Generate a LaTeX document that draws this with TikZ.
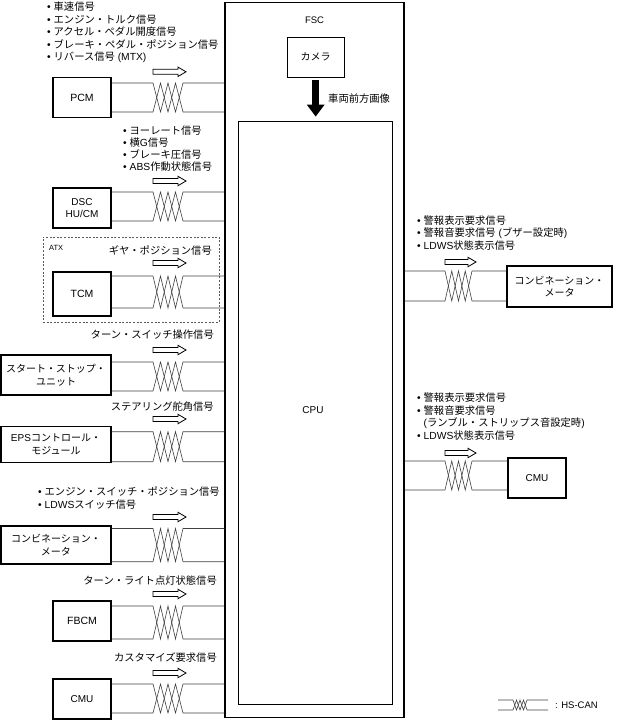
\documentclass[tikz,border=0pt]{standalone}
\usepackage{fontspec}
\setmainfont{Liberation Sans}
\newfontfamily\jp{Noto Sans CJK JP}
\newcommand\J[1]{{\jp #1}}
\usetikzlibrary{arrows.meta}
% left twisted pair: #1 box, #2 top y, #3 bottom y
\newcommand\twl[3]{%
 \draw[wire] (#1.east |- 0,#2) -- (153,#2) -- (160.5,#3) -- (168,#2) -- (175.5,#3) -- (183,#2) -- (fsc.west |- 0,#2);
 \draw[wire] (#1.east |- 0,#3) -- (153,#3) -- (160.5,#2) -- (168,#3) -- (175.5,#2) -- (183,#3) -- (fsc.west |- 0,#3);}
% right twisted pair
\newcommand\twr[3]{%
 \draw[wire] (fsc.east |- 0,#2) -- (445,#2) -- (451.75,#3) -- (458.5,#2) -- (465.25,#3) -- (472,#2) -- (#1.west |- 0,#2);
 \draw[wire] (fsc.east |- 0,#3) -- (445,#3) -- (451.75,#2) -- (458.5,#3) -- (465.25,#2) -- (472,#3) -- (#1.west |- 0,#3);}
% hollow arrow: x, y, length
\newcommand\harr[3]{%
 \draw[harrow] (#1,#2-2.5) -- (#1+#3-8,#2-2.5) -- (#1+#3-8,#2-4.7) -- (#1+#3,#2) -- (#1+#3-8,#2+4.7) -- (#1+#3-8,#2+2.5) -- (#1,#2+2.5) -- cycle;}
\begin{document}
\begin{tikzpicture}[x=1pt,y=-1pt,
  mbox/.style={draw, line width=1.2pt, inner sep=0pt, align=center, font=\fontsize{10}{12.5}\selectfont},
  wire/.style={draw=black!75, line width=0.6pt, line join=miter},
  sig/.style={inner sep=0pt, font=\fontsize{10.3}{12}\selectfont},
  harrow/.style={draw, line width=0.8pt, fill=white, line join=miter},
  thinbox/.style={draw, line width=0.7pt, inner sep=0pt, font=\fontsize{10}{12}\selectfont}]
\useasboundingbox (0,0) rectangle (619,721);
% FSC
\node[draw, line width=1.2pt, minimum width=179pt, minimum height=715pt, inner sep=0pt] (fsc) at (314.5,360) {};
\node[inner sep=0pt, font=\fontsize{9.5}{11}\selectfont] (fsclbl) at (314.5,20) {FSC};
\node[thinbox, minimum width=57.5pt, minimum height=40.5pt] (cam) at (315.7,57.2) {\J{カメラ}};
\node[thinbox, minimum width=153.5pt, minimum height=583pt] (cpu) at (315.2,412.5) {};
\node[inner sep=0pt, font=\fontsize{10}{12}\selectfont] (cpulbl) at (313,410) {CPU};
\draw[line width=6.6pt, -{Triangle[length=12pt,width=17pt]}, shorten <=2.5pt, shorten >=4pt] (cam.south) -- (cam.south |- cpu.north);
\node[sig, anchor=west] (img) at (328,99) {\J{車両前方画像}};
% left modules
\node[mbox, minimum width=58pt, minimum height=40pt, font=\fontsize{10.5}{12.5}\selectfont] (pcm) at (82,97.5) {PCM};
\node[mbox, minimum width=58pt, minimum height=40pt] (dsc) at (82,208) {DSC\\HU/CM};
\node[draw=black!65, line width=0.6pt, dash pattern=on 2pt off 1.6pt, minimum width=176pt, minimum height=85pt, inner sep=0pt] (atx) at (131,279.5) {};
\node[inner sep=0pt, anchor=west, font=\fontsize{7.5}{9}\selectfont] (atxlbl) at (49,247.7) {ATX};
\node[mbox, minimum width=58pt, minimum height=44pt, font=\fontsize{10.5}{12.5}\selectfont] (tcm) at (82,294) {TCM};
\node[mbox, minimum width=110pt, minimum height=40pt] (ssu) at (56,375) {\J{スタート・ストップ・}\\\J{ユニット}};
\node[mbox, minimum width=110pt, minimum height=36.5pt] (eps) at (56,444.5) {EPS\J{コントロール・}\\\J{モジュール}};
\node[mbox, minimum width=110pt, minimum height=38pt] (cmbl) at (56,545) {\J{コンビネーション・}\\\J{メータ}};
\node[mbox, minimum width=58pt, minimum height=40pt, font=\fontsize{10.5}{12.5}\selectfont] (fbcm) at (82,621) {FBCM};
\node[mbox, minimum width=58pt, minimum height=40pt] (cmul) at (82,699) {CMU};
% right modules
\node[mbox, minimum width=105pt, minimum height=41pt] (cmbr) at (559.5,286.5) {\J{コンビネーション・}\\\J{メータ}};
\node[mbox, minimum width=58pt, minimum height=40pt] (cmur) at (537,478) {CMU};
% wires
\twl{pcm}{83}{112}
\twl{dsc}{192}{221}
\twl{tcm}{276}{308}
\twl{ssu}{362}{391}
\twl{eps}{431.7}{461.7}
\twl{cmbl}{528.5}{561.7}
\twl{fbcm}{606}{639}
\twl{cmul}{684}{713}
\twr{cmbr}{271}{301}
\twr{cmur}{461}{490}
% arrows
\harr{153}{71.8}{33}
\harr{153}{181}{33}
\harr{153}{263}{33}
\harr{153}{350}{33}
\harr{153}{419}{33}
\harr{153}{517}{33}
\harr{153}{594}{33}
\harr{153}{673}{33}
\harr{445}{262}{31}
\harr{445}{453}{31}
% signal labels
\node[sig, anchor=west] (p1) at (47,6.5) {\textbullet\ \J{車速信号}};
\node[sig, anchor=west] (p2) at (47,19.2) {\textbullet\ \J{エンジン・トルク信号}};
\node[sig, anchor=west] (p3) at (47,31.8) {\textbullet\ \J{アクセル・ペダル開度信号}};
\node[sig, anchor=west] (p4) at (47,44.4) {\textbullet\ \J{ブレーキ・ペダル・ポジション信号}};
\node[sig, anchor=west] (p5) at (47,57) {\textbullet\ \J{リバース信号} (MTX)};
\node[sig, anchor=west] (d1) at (123,130.7) {\textbullet\ \J{ヨーレート信号}};
\node[sig, anchor=west] (d2) at (123,143) {\textbullet\ \J{横}G\J{信号}};
\node[sig, anchor=west] (d3) at (123,154.7) {\textbullet\ \J{ブレーキ圧信号}};
\node[sig, anchor=west] (d4) at (123,166.7) {\textbullet\ ABS\J{作動状態信号}};
\node[sig, anchor=east] (t1) at (212,251) {\J{ギヤ・ポジション信号}};
\node[sig, anchor=east] (s1) at (214,335) {\J{ターン・スイッチ操作信号}};
\node[sig, anchor=east] (e1) at (214,407) {\J{ステアリング舵角信号}};
\node[sig, anchor=west] (c1) at (38,492) {\textbullet\ \J{エンジン・スイッチ・ポジション信号}};
\node[sig, anchor=west] (c2) at (38,504.5) {\textbullet\ LDWS\J{スイッチ信号}};
\node[sig, anchor=east] (f1) at (217,581) {\J{ターン・ライト点灯状態信号}};
\node[sig, anchor=east] (m1) at (217,658) {\J{カスタマイズ要求信号}};
\node[sig, anchor=west] (ra1) at (417,220.7) {\textbullet\ \J{警報表示要求信号}};
\node[sig, anchor=west] (ra2) at (417,233.3) {\textbullet\ \J{警報音要求信号} (\J{ブザー設定時})};
\node[sig, anchor=west] (ra3) at (417,245.7) {\textbullet\ LDWS\J{状態表示信号}};
\node[sig, anchor=west] (rb1) at (417,397.3) {\textbullet\ \J{警報表示要求信号}};
\node[sig, anchor=west] (rb2) at (417,410.5) {\textbullet\ \J{警報音要求信号}};
\node[sig, anchor=west] (rb3) at (417,423.3) {\phantom{\textbullet}\ (\J{ランブル・ストリップス音設定時})};
\node[sig, anchor=west] (rb4) at (417,435.7) {\textbullet\ LDWS\J{状態表示信号}};
% legend
\coordinate (lga) at (498,700);
\coordinate (lgb) at (548,700);
\coordinate (lgc) at (498,710);
\coordinate (lgd) at (548,710);
\draw[wire] (lga) -- (513,700) -- (516.5,710) -- (520,700) -- (523.5,710) -- (527,700) -- (lgb);
\draw[wire] (lgc) -- (513,710) -- (516.5,700) -- (520,710) -- (523.5,700) -- (527,710) -- (lgd);
\node[inner sep=0pt, anchor=west, font=\fontsize{9.5}{11}\selectfont] (lgtxt) at (555,705) {: HS-CAN};
\end{tikzpicture}
\end{document}
